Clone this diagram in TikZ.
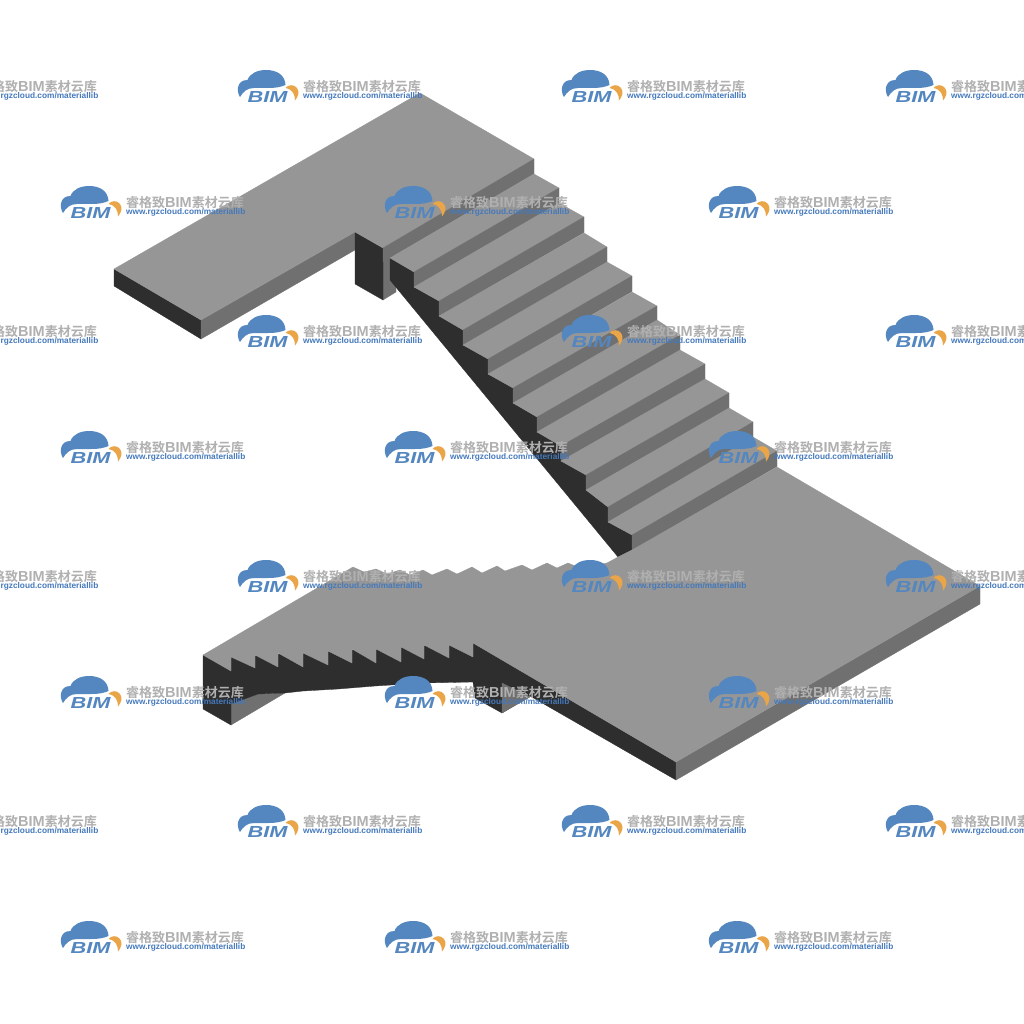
\documentclass[tikz,border=0pt]{standalone}
\usepackage{fontspec}
\setmainfont{Liberation Sans}
\newfontfamily\cjkf{Noto Sans CJK SC}[BoldFont={* Bold}]
\definecolor{topc}{HTML}{969696}
\definecolor{midc}{HTML}{707070}
\definecolor{darkc}{HTML}{2E2E2E}
\definecolor{wmblue}{HTML}{5487C0}
\definecolor{wmurl}{HTML}{4479BC}
\definecolor{wmorange}{HTML}{E9A548}
\definecolor{wmgrey}{HTML}{B0B0B0}
\tikzset{
  top/.style={fill=topc,draw=topc,line width=.3pt,line join=round},
  mid/.style={fill=midc,draw=midc,line width=.3pt,line join=round},
  dark/.style={fill=darkc,draw=darkc,line width=.3pt,line join=round},
  wmlogo/.pic={
    \fill[wmblue] (2,27) .. controls (-2,21) and (-1,10) .. (9.5,10)
       .. controls (12,3) and (20,0) .. (28,0)
       .. controls (39,0) and (47,5) .. (47.5,15)
       .. controls (43,17) and (38,18) .. (30,18)
       -- (16,18) .. controls (9,18) and (5,22) .. (2,27) -- cycle;
    \fill[wmorange] (47.5,18) .. controls (50,14.5) and (56,14) .. (59,18)
       .. controls (62,22) and (60,27) .. (57,30.5)
       .. controls (57,25) and (55,19.5) .. (47.5,18) -- cycle;
    \node[inner sep=0pt,anchor=center,xscale=1.36,text=wmblue,font=\bfseries\itshape\fontsize{16}{16}\selectfont] (-bim) at (29.5,27) {BIM};
    \node[inner sep=0pt,anchor=west,text=wmgrey,font=\bfseries\fontsize{13}{13}\selectfont] (-cn) at (65,17) {\cjkf 睿格致\rmfamily\fontsize{14.5}{14.5}\selectfont BIM\cjkf\fontsize{13}{13}\selectfont 素材云库};
    \node[inner sep=0pt,anchor=west,text=wmurl,font=\bfseries\fontsize{8.3}{8.3}\selectfont] (-url) at (65,26.5) {www.rgzcloud.com/materiallib};
  }
}
\begin{document}
\begin{tikzpicture}[x=1pt,y=-1pt]
\useasboundingbox (0,0) rectangle (1024,1024);
\clip (0,0) rectangle (1024,1024);
\fill[white] (0,0) rectangle (1024,1024);
% upper landing
\path[dark] (114,269) -- (201,320) -- (201,339) -- (114,286) -- cycle;
\path[mid] (201,320) -- (355,232) -- (355,250) -- (201,339) -- cycle;
\path[mid] (383,248) -- (396,256) -- (396,292) -- (383,300) -- cycle;
\path[dark] (355,232) -- (383,248) -- (383,300) -- (355,284) -- cycle;
\path[top] (114,269) -- (420,93) -- (534,159) -- (383,248) -- (355,232) -- (201,320) -- cycle;
% flight stringer
\path[dark] (390,258) -- (414,272) -- (414,287) -- (439,301) -- (439,316) -- (463,330) -- (463,345) -- (488,359) -- (488,374)
  -- (513,388) -- (513,403) -- (537,417) -- (537,432) -- (561,446) -- (561,461) -- (586,475) -- (586,490) -- (608,507) -- (608,522)
  -- (632,535) -- (632,550) -- (618,557) -- (390,280) -- cycle;
\path[mid] (383,248) -- (534,159) -- (534,174) -- (390,258) -- (383,262) -- cycle;
% treads and risers
\foreach \lx/\ly/\rx/\ry/\nlx/\nly/\nrx/\nry in {
  390/258/534/174/414/272/559/188,
  414/287/559/203/439/301/584/217,
  439/316/584/233/463/330/607/247,
  463/345/607/262/488/359/632/276,
  488/374/632/292/513/388/657/306,
  513/403/657/320/537/417/680/335,
  537/432/680/350/561/446/705/364,
  561/461/705/379/586/475/729/393,
  586/490/729/408/608/507/753/422,
  608/522/753/437/632/535/777/451}{
  \path[top] (\lx,\ly) -- (\rx,\ry) -- (\nrx,\nry) -- (\nlx,\nly) -- cycle;
  \path[mid] (\nlx,\nly) -- (\nrx,\nry) -- (\nrx,\nry+15.5) -- (\nlx,\nly+15.5) -- cycle;
}
% lower flight and landing: side faces
\path[mid] (231,725) -- (231,704) -- (258,694) -- (285,693) -- cycle;
\path[dark] (203,655) -- (231,671) -- (231,657) -- (473,643) -- (676,762) -- (676,780) -- (530,696) -- (502,713) -- (475,698) -- (473,682)
  -- (423,683) -- (375,686) -- (338,689) -- (303,691) -- (285,693) -- (258,694) -- (231,704) -- (231,725) -- (203,709) -- cycle;
\path[mid] (502,683) -- (530,697) -- (502,713) -- cycle;
\path[mid] (676,762) -- (980,586) -- (980,604) -- (676,780) -- cycle;
\path[top] (203,655) -- (353,567) -- (364,572) -- (376,569) -- (387,574) -- (400,570) -- (410,575) -- (423,570) -- (432,575) -- (447,569)
  -- (457,574) -- (472,567) -- (482,573) -- (497,566) -- (505,571) -- (522,565) -- (532,570) -- (547,563) -- (557,568) -- (568,563)
  -- (580,568) -- (607,563) -- (618,557) -- (632,550) -- (777,467) -- (980,586) -- (676,762) -- (473,643)
  -- (473,657) -- (449,645) -- (449,658) -- (424,645) -- (424,659) -- (401,647) -- (401,662) -- (376,649) -- (376,663) -- (352,649)
  -- (352,663) -- (328,651) -- (328,665) -- (303,653) -- (303,667) -- (278,653) -- (278,667) -- (255,655) -- (255,668) -- (231,657) -- (231,671) -- cycle;
% watermarks
\foreach \n/\wx/\wy in {a/-86/70,b/238/70,c/562/70,d/886/70,
  e/61/186,f/385/186,g/709/186,
  h/-86/315,i/238/315,j/562/315,k/886/315,
  l/61/431,m/385/431,n/709/431,
  o/-86/560,p/238/560,q/562/560,r/886/560,
  s/61/676,t/385/676,u/709/676,
  v/-86/805,w/238/805,x/562/805,y/886/805,
  z/61/921,aa/385/921,ab/709/921}{
  \pic (\n) at (\wx,\wy) {wmlogo};
}
\end{tikzpicture}
\end{document}
